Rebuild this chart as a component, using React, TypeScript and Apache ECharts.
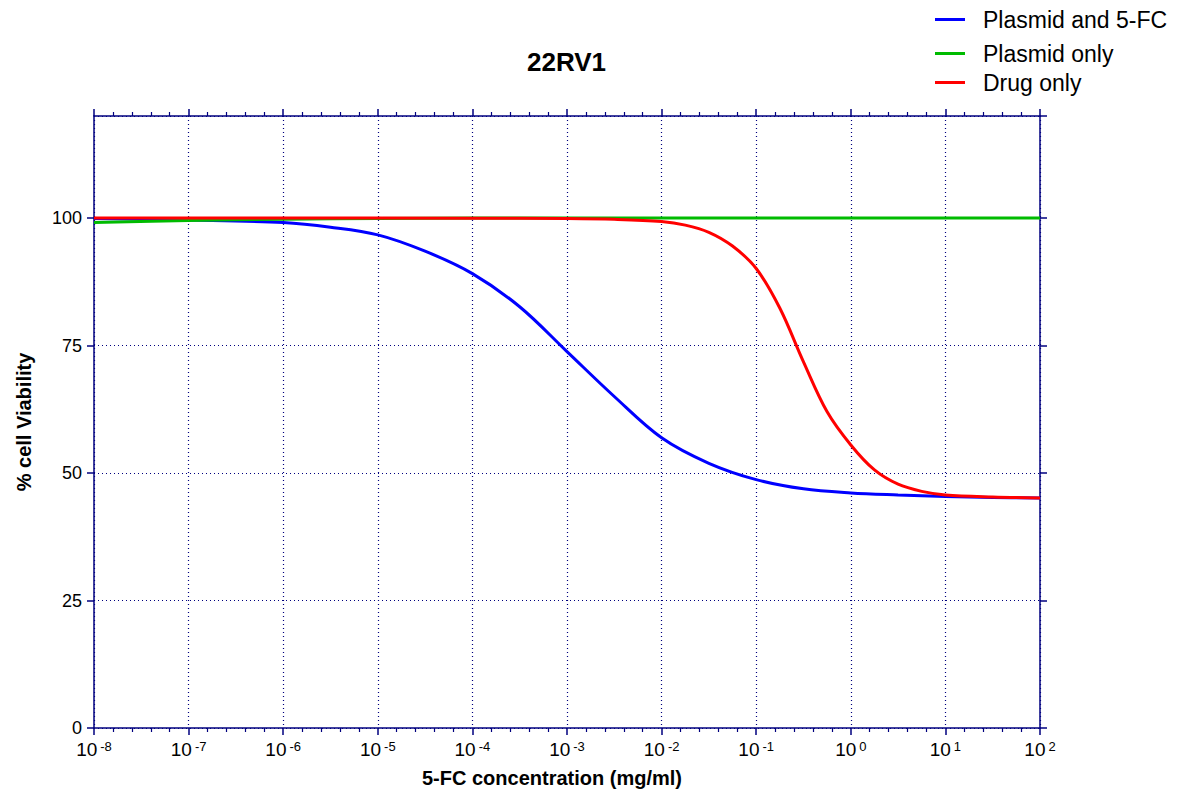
import React, { useEffect, useRef } from "react";
import * as echarts from "echarts";

// Concentrations (mg/ml) and % cell viability
const plasmid5fcConc = [1e-8, 1e-7, 1e-6, 3.16e-6, 1e-5, 3.16e-5, 1e-4, 3.16e-4, 1e-3, 3.16e-3, 1e-2, 3.16e-2, 1e-1, 3.16e-1, 1, 3.16, 10, 31.6, 100];
const plasmid5fcViability = [99.9, 99.6, 99.1, 98.2, 96.7, 93.5, 89.1, 82.6, 73.8, 65.0, 56.9, 51.9, 48.7, 46.9, 46.1, 45.7, 45.4, 45.2, 45.1];

const plasmidOnlyConc = [1e-8, 1e-7, 1e-6, 1e-5, 1e-4, 1e-3, 1e-2, 1e-1, 1, 10, 100];
const plasmidOnlyViability = [99.1, 99.5, 99.75, 99.9, 100, 100, 100, 100, 100, 100, 100];

const drugOnlyConc = [1e-8, 1e-6, 1e-4, 1e-3, 3.16e-3, 1e-2, 1.78e-2, 3.16e-2, 5.62e-2, 1e-1, 1.78e-1, 3.16e-1, 5.62e-1, 1, 1.78, 3.16, 5.62, 10, 31.6, 100];
const drugOnlyViability = [100, 100, 99.95, 99.9, 99.75, 99.3, 98.6, 97.2, 94.5, 90.1, 82.3, 71.8, 62.0, 55.5, 50.6, 47.8, 46.4, 45.7, 45.3, 45.1];

const xExponentMin = -8;
const xExponentMax = 2;
const yTicks = { min: 0, max: 120, interval: 25 };

const seriesNames = ["Plasmid and 5-FC", "Plasmid only", "Drug only"];
const seriesColors = ["#0000ff", "#00bb00", "#ff0000"];

const AXIS = "#00007f";
const FONT = "'Liberation Sans', Arial, sans-serif";

const toPoints = (conc: number[], vals: number[]) =>
  conc.map((c, i) => [Math.log10(c), vals[i]]);

export default function App() {
  const ref = useRef<HTMLDivElement>(null);
  useEffect(() => {
    if (!ref.current) return;
    const chart = echarts.init(ref.current, null, { renderer: "svg" });
    const xCommon = {
      type: "value" as const,
      min: xExponentMin,
      max: xExponentMax,
      interval: 1,
      axisLine: { show: true, onZero: false, lineStyle: { color: AXIS, width: 1.5 } },
      axisTick: { show: true, length: 7, lineStyle: { color: AXIS, width: 1.5 } },
      minorTick: { show: true, splitNumber: 5, length: 4, lineStyle: { color: AXIS, width: 1.2 } },
    };
    const yCommon = {
      type: "value" as const,
      min: yTicks.min,
      max: yTicks.max,
      interval: yTicks.interval,
      axisLine: { show: true, onZero: false, lineStyle: { color: AXIS, width: 1.5 } },
      axisTick: { show: true, length: 7, lineStyle: { color: AXIS, width: 1.5 } },
    };
    const legendBase = (i: number, top: number) => ({
      data: [{ name: seriesNames[i], icon: "rect", itemStyle: { color: seriesColors[i] } }],
      left: 930,
      top,
      itemWidth: 30,
      itemHeight: 3,
      textStyle: { fontFamily: FONT, fontSize: 23, color: "#000", padding: [0, 0, 0, 13] },
    });
    chart.setOption({
      animation: false,
      backgroundColor: "#fff",
      title: {
        text: "22RV1",
        left: 522,
        top: 44,
        textStyle: { fontFamily: FONT, fontSize: 26, fontWeight: "bold", color: "#000" },
      },
      legend: [legendBase(0, 3), legendBase(1, 37), legendBase(2, 66)],
      grid: { left: 94, right: 147, top: 116, bottom: 70, containLabel: false },
      xAxis: [
        {
          ...xCommon,
          position: "bottom",
          name: "5-FC concentration (mg/ml)",
          nameLocation: "middle",
          nameGap: 40,
          nameTextStyle: { fontFamily: FONT, fontSize: 20, fontWeight: "bold", color: "#000", padding: [0, 30, 0, 0] },
          axisLabel: {
            show: true,
            margin: 12,
            formatter: (v: number) => `{b|10}{s|${v}}`,
            rich: {
              b: { fontFamily: FONT, fontSize: 19, color: "#000" },
              s: { fontFamily: FONT, fontSize: 13, color: "#000", verticalAlign: "top", padding: [0, 0, 0, 3] },
            },
          },
          splitLine: { show: true, lineStyle: { color: AXIS, type: [1, 3], width: 1.2 } },
        },
        {
          ...xCommon,
          position: "top",
          axisLabel: { show: false },
          splitLine: { show: false },
        },
      ],
      yAxis: [
        {
          ...yCommon,
          position: "left",
          name: "% cell Viability",
          nameLocation: "middle",
          nameGap: 60,
          nameTextStyle: { fontFamily: FONT, fontSize: 20, fontWeight: "bold", color: "#000" },
          axisLabel: { show: true, margin: 12, showMaxLabel: false, fontFamily: FONT, fontSize: 18, color: "#000" },
          splitLine: { show: true, lineStyle: { color: AXIS, type: [1, 3], width: 1.2 } },
        },
        {
          ...yCommon,
          position: "right",
          axisLabel: { show: false },
          splitLine: { show: false },
        },
      ],
      series: seriesNames.map((name, i) => ({
        name,
        type: "line",
        data:
          i === 0
            ? toPoints(plasmid5fcConc, plasmid5fcViability)
            : i === 1
            ? toPoints(plasmidOnlyConc, plasmidOnlyViability)
            : toPoints(drugOnlyConc, drugOnlyViability),
        smooth: 0.35,
        symbol: "none",
        lineStyle: { color: seriesColors[i], width: 3 },
        itemStyle: { color: seriesColors[i] },
      })),
    });
    return () => chart.dispose();
  }, []);
  return (
    <div
      ref={ref}
      style={{ position: "absolute", left: 0, top: 0, width: 1187, height: 798 }}
    />
  );
}
